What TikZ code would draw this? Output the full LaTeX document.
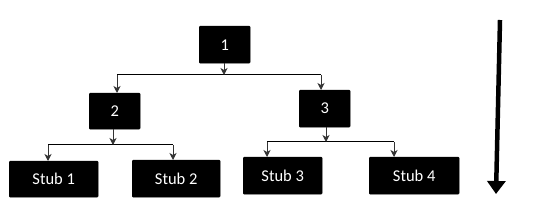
\documentclass[tikz,border=0pt]{standalone}
\usepackage{fontspec}
\setmainfont{Carlito}
\usetikzlibrary{arrows.meta}
\begin{document}
\begin{tikzpicture}[x=1pt,y=-1pt,
  box/.style={draw=black,fill=black,rounded corners=1pt,text=white,font=\fontsize{16.5}{18}\selectfont,inner sep=0pt,anchor=north west},
  bar/.style={draw=black,line width=1pt},
  link/.style={draw=black!80,line width=0.9pt,-{Stealth[length=7pt,width=7pt,inset=2pt]}},
  bigarrow/.style={draw=black,line width=4.5pt,-{Triangle[length=13pt,width=18pt]}}]
\useasboundingbox (0,0) rectangle (535,213);
% boxes
\node[box,minimum width=51pt,minimum height=37pt] (n1) at (199,26) {1};
\node[box,minimum width=51pt,minimum height=36pt] (n2) at (89,93) {2};
\node[box,minimum width=51pt,minimum height=37pt] (n3) at (299,90) {3};
\node[box,minimum width=89pt,minimum height=36pt] (s1) at (9,161) {Stub 1};
\node[box,minimum width=88pt,minimum height=37pt] (s2) at (132,160) {Stub 2};
\node[box,minimum width=79pt,minimum height=37pt] (s3) at (243,157) {Stub 3};
\node[box,minimum width=90pt,minimum height=37pt] (s4) at (369,157) {Stub 4};
% junction coordinates
\coordinate (j1) at (224,75);
\coordinate (j1l) at (117,75);
\coordinate (j1r) at (321,75);
\coordinate (j2) at (113,145);
\coordinate (j2l) at (48,145);
\coordinate (j2r) at (173,145);
\coordinate (j3) at (326,142);
\coordinate (j3l) at (267,142);
\coordinate (j3r) at (394,142);
% bars
\draw[bar] (j1l) -- (j1r);
\draw[bar] (j2l) -- (j2r);
\draw[bar] (j3l) -- (j3r);
% links
\draw[link] (n1.south -| j1) -- (j1);
\draw[link] (j1l) -- (j1l |- n2.north);
\draw[link] (j1r) -- (j1r |- n3.north);
\draw[link] (n2.south -| j2) -- (j2);
\draw[link] (j2l) -- (j2l |- s1.north);
\draw[link] (j2r) -- (j2r |- s2.north);
\draw[link] (n3.south -| j3) -- (j3);
\draw[link] (j3l) -- (j3l |- s3.north);
\draw[link] (j3r) -- (j3r |- s4.north);
% big arrow
\coordinate (btop) at (500,20);
\coordinate (bbot) at (496,194);
\draw[bigarrow] (btop) -- (bbot);
\end{tikzpicture}
\end{document}
